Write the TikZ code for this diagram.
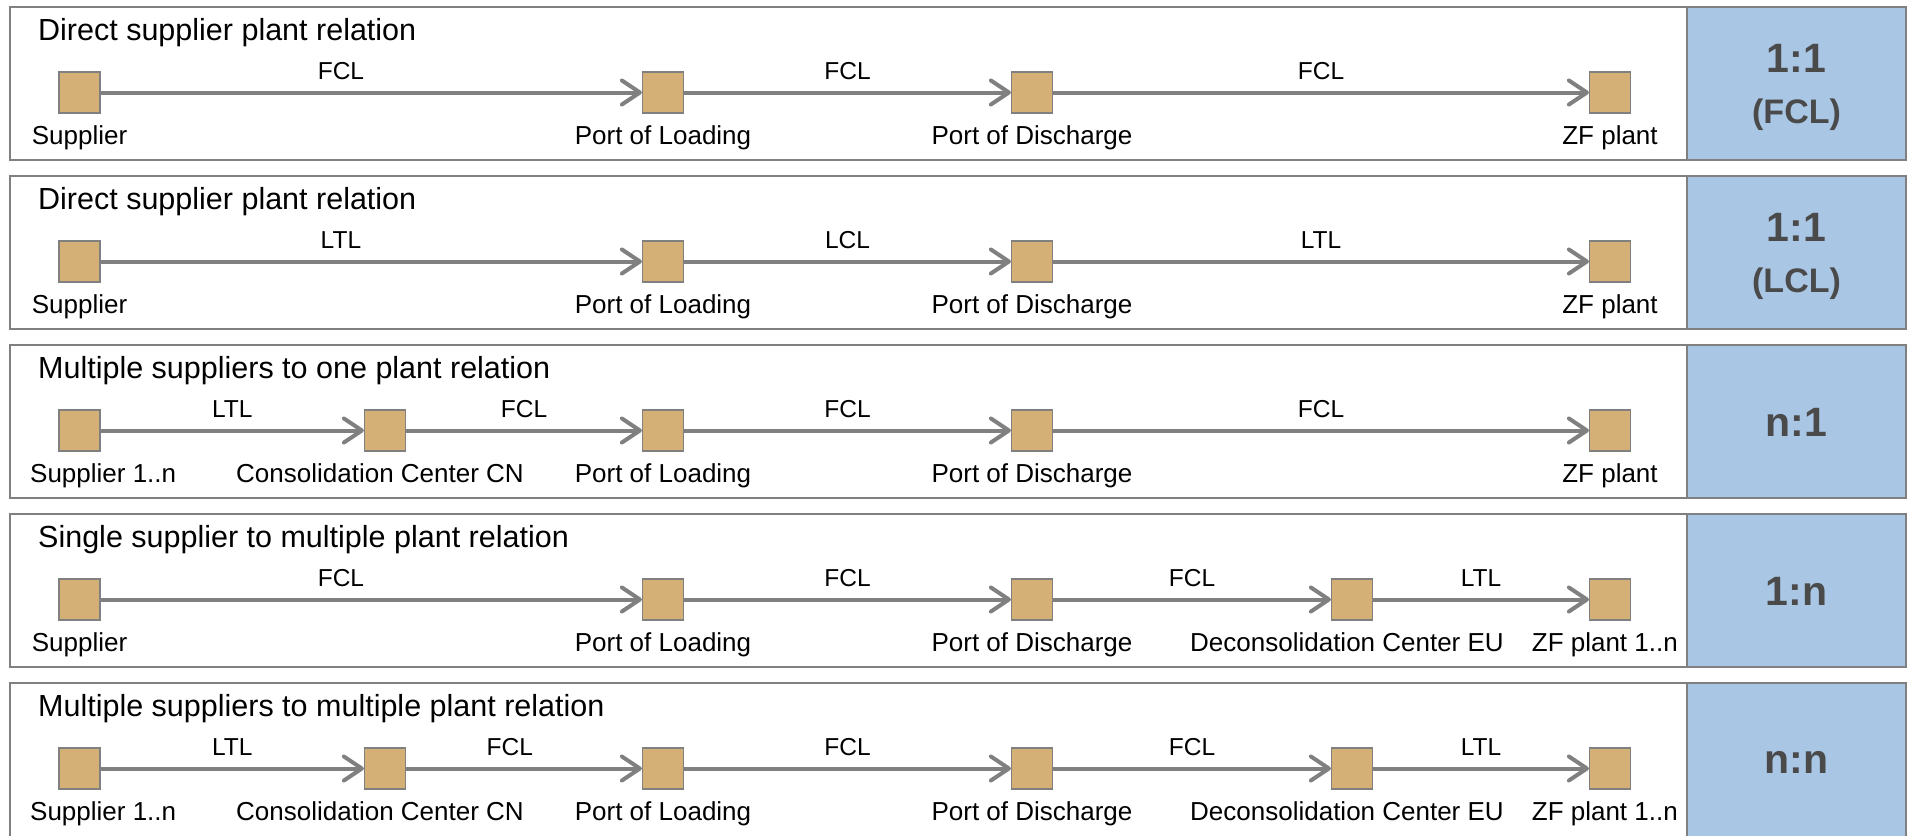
\documentclass[tikz,border=0pt]{standalone}
\usepackage{fontspec}
\setmainfont{Liberation Sans}
\usepackage{xcolor}
\usepackage{tikz}
\usetikzlibrary{arrows.meta}

\definecolor{framegray}{RGB}{128,128,128}
\definecolor{flowgray}{RGB}{128,128,128}
\definecolor{sitetan}{RGB}{212,175,118}
\definecolor{ratioblue}{RGB}{169,198,228}
\definecolor{ratiotext}{RGB}{74,74,74}

\begin{document}
\begin{tikzpicture}[x=1pt, y=-1pt,
  rowframe/.style={draw=framegray, line width=2pt},
  ratiobox/.style={draw=framegray, line width=2pt, fill=ratioblue},
  site/.style={draw=framegray, fill=sitetan, line width=1.2pt,
               minimum size=41pt, inner sep=0pt},
  sitelabel/.style={font=\fontsize{26}{30}\selectfont, anchor=base, inner sep=0pt},
  heading/.style={font=\fontsize{30.5}{36}\selectfont, anchor=base west, inner sep=0pt},
  flow/.style={-{Straight Barb[length=18pt, width=24pt, round]}, line width=4pt, draw=flowgray},
  mode/.style={font=\fontsize{24.5}{28}\selectfont, anchor=base, yshift=13.5pt, inner sep=0pt},
  ratio/.style={font=\bfseries\fontsize{41}{46}\selectfont, text=ratiotext, inner sep=0pt},
  subratio/.style={font=\bfseries\fontsize{34}{38}\selectfont, text=ratiotext, inner sep=0pt}
]
  \useasboundingbox (0,0) rectangle (1910,835);

  % Row 1: direct, FCL
  \draw[rowframe] (10,7) rectangle (1687,160);
  \draw[ratiobox] (1687,7) rectangle (1906,160);
  \node[heading] (H1) at (38,40) {Direct supplier plant relation};
  \node[site] (S1) at (79.5,92.5) {};
  \node[site] (P1) at (663,92.5) {};
  \node[site] (D1) at (1032,92.5) {};
  \node[site] (Z1) at (1610,92.5) {};
  \node[sitelabel] (S1t) at (79.5,144) {Supplier};
  \node[sitelabel] (P1t) at (663,144) {Port of Loading};
  \node[sitelabel] (D1t) at (1032,144) {Port of Discharge};
  \node[sitelabel] (Z1t) at (1610,144) {ZF plant};
  \draw[flow] (S1) -- node[mode, pos=.444] (m11) {FCL} (P1);
  \draw[flow] (P1) -- node[mode] (m12) {FCL} (D1);
  \draw[flow] (D1) -- node[mode] (m13) {FCL} (Z1);
  \node[ratio] (R1) at (1796.5,58.5) {1:1};
  \node[subratio] (R1b) at (1796.5,114.5) {(FCL)};

  % Row 2: direct, LCL
  \draw[rowframe] (10,176) rectangle (1687,329);
  \draw[ratiobox] (1687,176) rectangle (1906,329);
  \node[heading] (H2) at (38,209) {Direct supplier plant relation};
  \node[site] (S2) at (79.5,261.5) {};
  \node[site] (P2) at (663,261.5) {};
  \node[site] (D2) at (1032,261.5) {};
  \node[site] (Z2) at (1610,261.5) {};
  \node[sitelabel] (S2t) at (79.5,313) {Supplier};
  \node[sitelabel] (P2t) at (663,313) {Port of Loading};
  \node[sitelabel] (D2t) at (1032,313) {Port of Discharge};
  \node[sitelabel] (Z2t) at (1610,313) {ZF plant};
  \draw[flow] (S2) -- node[mode, pos=.444] (m21) {LTL} (P2);
  \draw[flow] (P2) -- node[mode] (m22) {LCL} (D2);
  \draw[flow] (D2) -- node[mode] (m23) {LTL} (Z2);
  \node[ratio] (R2) at (1796.5,227.5) {1:1};
  \node[subratio] (R2b) at (1796.5,283.5) {(LCL)};

  % Row 3: n suppliers, one plant
  \draw[rowframe] (10,345) rectangle (1687,498);
  \draw[ratiobox] (1687,345) rectangle (1906,498);
  \node[heading] (H3) at (38,378) {Multiple suppliers to one plant relation};
  \node[site] (S3) at (79.5,430.5) {};
  \node[site] (C3) at (385,430.5) {};
  \node[site] (P3) at (663,430.5) {};
  \node[site] (D3) at (1032,430.5) {};
  \node[site] (Z3) at (1610,430.5) {};
  \node[sitelabel, anchor=base west] (S3t) at (30,482) {Supplier 1..n};
  \node[sitelabel] (C3t) at (380,482) {Consolidation Center CN};
  \node[sitelabel] (P3t) at (663,482) {Port of Loading};
  \node[sitelabel] (D3t) at (1032,482) {Port of Discharge};
  \node[sitelabel] (Z3t) at (1610,482) {ZF plant};
  \draw[flow] (S3) -- node[mode] (m31) {LTL} (C3);
  \draw[flow] (C3) -- node[mode] (m32) {FCL} (P3);
  \draw[flow] (P3) -- node[mode] (m33) {FCL} (D3);
  \draw[flow] (D3) -- node[mode] (m34) {FCL} (Z3);
  \node[ratio] (R3) at (1796.5,422) {n:1};

  % Row 4: one supplier, n plants
  \draw[rowframe] (10,514) rectangle (1687,667);
  \draw[ratiobox] (1687,514) rectangle (1906,667);
  \node[heading] (H4) at (38,547) {Single supplier to multiple plant relation};
  \node[site] (S4) at (79.5,599.5) {};
  \node[site] (P4) at (663,599.5) {};
  \node[site] (D4) at (1032,599.5) {};
  \node[site] (E4) at (1352,599.5) {};
  \node[site] (Z4) at (1610,599.5) {};
  \node[sitelabel] (S4t) at (79.5,651) {Supplier};
  \node[sitelabel] (P4t) at (663,651) {Port of Loading};
  \node[sitelabel] (D4t) at (1032,651) {Port of Discharge};
  \node[sitelabel] (E4t) at (1347,651) {Deconsolidation Center EU};
  \node[sitelabel, anchor=base east] (Z4t) at (1678,651) {ZF plant 1..n};
  \draw[flow] (S4) -- node[mode, pos=.444] (m41) {FCL} (P4);
  \draw[flow] (P4) -- node[mode] (m42) {FCL} (D4);
  \draw[flow] (D4) -- node[mode] (m43) {FCL} (E4);
  \draw[flow] (E4) -- node[mode] (m44) {LTL} (Z4);
  \node[ratio] (R4) at (1796.5,591) {1:n};

  % Row 5: n suppliers, n plants
  \draw[rowframe] (10,683) rectangle (1687,838);
  \draw[ratiobox] (1687,683) rectangle (1906,838);
  \node[heading] (H5) at (38,716) {Multiple suppliers to multiple plant relation};
  \node[site] (S5) at (79.5,768.5) {};
  \node[site] (C5) at (385,768.5) {};
  \node[site] (P5) at (663,768.5) {};
  \node[site] (D5) at (1032,768.5) {};
  \node[site] (E5) at (1352,768.5) {};
  \node[site] (Z5) at (1610,768.5) {};
  \node[sitelabel, anchor=base west] (S5t) at (30,820) {Supplier 1..n};
  \node[sitelabel] (C5t) at (380,820) {Consolidation Center CN};
  \node[sitelabel] (P5t) at (663,820) {Port of Loading};
  \node[sitelabel] (D5t) at (1032,820) {Port of Discharge};
  \node[sitelabel] (E5t) at (1347,820) {Deconsolidation Center EU};
  \node[sitelabel, anchor=base east] (Z5t) at (1678,820) {ZF plant 1..n};
  \draw[flow] (S5) -- node[mode] (m51) {LTL} (C5);
  \draw[flow] (C5) -- node[mode, pos=.44] (m52) {FCL} (P5);
  \draw[flow] (P5) -- node[mode] (m53) {FCL} (D5);
  \draw[flow] (D5) -- node[mode] (m54) {FCL} (E5);
  \draw[flow] (E5) -- node[mode] (m55) {LTL} (Z5);
  \node[ratio] (R5) at (1796.5,762) {n:n};
\end{tikzpicture}
\end{document}
